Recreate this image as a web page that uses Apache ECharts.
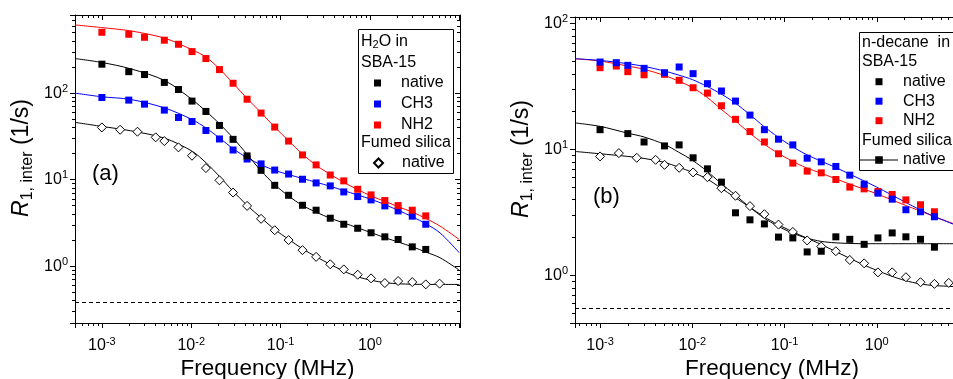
<!DOCTYPE html>
<html>
<head>
<meta charset="utf-8">
<script src="https://cdn.jsdelivr.net/npm/echarts@6/dist/echarts.min.js"></script>
<style>
  html, body { margin: 0; padding: 0; background: #fff; }
  #chart { width: 953px; height: 379px; }
</style>
</head>
<body>
<div id="chart"></div>
<script>
// ---- values (frequency in MHz, R1 in 1/s) ----
// (a) H2O in SBA-15 / fumed silica
const freqA = [0.001, 0.002, 0.003, 0.005, 0.0072, 0.0102, 0.0146, 0.0207, 0.0294, 0.0422, 0.0605, 0.086, 0.123, 0.176, 0.25, 0.36, 0.51, 0.73, 1.03, 1.47, 2.07, 2.98, 4.22];
const aNative = [216, 177, 164, 133, 110, 80.9, 61.4, 42.3, 29.2, 18.8, 12.8, 8.59, 6.59, 5.05, 4.43, 3.58, 3.05, 2.74, 2.43, 2.18, 2.03, 1.67, 1.56];
const aCH3 = [89.0, 83.0, 74.6, 63.6, 52.3, 47.0, 37.0, 29.5, 22.0, 17.3, 15.2, 12.9, 11.6, 10.1, 9.16, 8.46, 7.21, 6.37, 5.83, 4.97, 4.35, 3.78, 3.05];
const aNH2 = [505, 479, 442, 409, 367, 302, 251, 187, 130, 85, 58.8, 40.5, 27.9, 19.3, 14.8, 11.3, 9.67, 7.73, 6.66, 5.73, 5.01, 4.43, 3.81];
const freqFS = [0.001, 0.0016, 0.0025, 0.004, 0.005, 0.0072, 0.0102, 0.0146, 0.0207, 0.0294, 0.0422, 0.0605, 0.086, 0.123, 0.176, 0.25, 0.36, 0.51, 0.73, 1.03, 1.47, 2.07, 2.98, 4.22, 6.03];
const aFumed = [40.1, 37.7, 35.8, 30.8, 27.9, 23.6, 18.9, 13.6, 9.82, 7.08, 4.97, 3.52, 2.60, 2.00, 1.53, 1.28, 1.05, 0.916, 0.796, 0.722, 0.637, 0.672, 0.654, 0.615, 0.627];

// fit curves (a)
const fitFreqA = [0.0005, 0.001, 0.0021, 0.0051, 0.0103, 0.0147, 0.0207, 0.0294, 0.0426, 0.061, 0.086, 0.124, 0.177, 0.251, 0.36, 0.51, 0.73, 1.05, 1.5, 2.1, 3.0, 4.25, 6.1, 10];
const aFitNH2 = [614, 572, 524, 430, 316, 260, 191, 130, 86, 58.8, 40.5, 27.9, 19.6, 14.6, 11.5, 9.31, 7.67, 6.42, 5.57, 4.84, 4.2, 3.55, 2.9, 2.03];
const aFitNative = [251, 226, 191, 139, 83.8, 61.4, 44.3, 30.3, 19.4, 12.5, 8.75, 6.42, 5.01, 4.2, 3.58, 3.16, 2.77, 2.42, 2.12, 1.89, 1.67, 1.45, 1.25, 0.90];
const aFitCH3 = [100, 90.7, 84.5, 67.1, 49.3, 39.4, 30.3, 22.8, 17.8, 14.8, 12.8, 11.4, 10.3, 9.31, 8.38, 7.46, 6.65, 5.88, 5.1, 4.39, 3.71, 3.08, 2.42, 1.43];
const aFitFumed = [45.9, 41.2, 36.7, 30.0, 21.2, 15.6, 10.9, 7.33, 5.0, 3.6, 2.65, 2.03, 1.58, 1.28, 1.05, 0.875, 0.753, 0.684, 0.642, 0.625, 0.617, 0.615, 0.614, 0.614];
const aBulk = 0.378; // dashed level

// (b) n-decane in SBA-15 / fumed silica
const freqB = [0.001, 0.0015, 0.002, 0.003, 0.005, 0.0072, 0.0102, 0.0146, 0.0207, 0.0294, 0.0422, 0.0605, 0.086, 0.123, 0.176, 0.25, 0.36, 0.51, 0.73, 1.03, 1.47, 2.07, 2.98, 4.22];
const bCH3 = [49.6, 49.0, 46.7, 44.2, 40.8, 45.3, 40.1, 33.4, 29.2, 24.3, 18.8, 14.4, 12.1, 10.9, 8.55, 8.0, 7.35, 6.27, 5.32, 4.51, 4.04, 3.33, 3.21, 2.93];
const bNH2 = [44.7, 46.1, 41.6, 39.3, 39.6, 35.5, 31.0, 28.1, 22.3, 17.4, 13.9, 11.5, 9.27, 7.81, 6.75, 6.54, 5.79, 5.04, 4.88, 4.65, 4.40, 3.99, 3.65, 3.21];
const bNative = [14.4, 13.4, 11.5, 10.7, 10.9, 8.61, 7.04, 5.52, 3.15, 2.77, 2.57, 2.02, 1.99, 1.54, 1.56, 2.03, 1.94, 1.77, 1.99, 2.18, 2.03, 1.94, 1.68];
const bFumed = [8.83, 9.38, 8.61, 8.30, 7.57, 7.17, 6.59, 6.04, 4.94, 4.30, 3.56, 3.07, 2.54, 2.22, 1.90, 1.70, 1.56, 1.33, 1.25, 1.06, 1.06, 0.97, 0.885, 0.859, 0.874];

// fit curves (b)
const fitFreqB = [0.000535, 0.001, 0.002, 0.003, 0.005, 0.0071, 0.0101, 0.0144, 0.0203, 0.0288, 0.042, 0.0596, 0.0847, 0.121, 0.172, 0.248, 0.352, 0.5, 0.71, 1.0, 1.42, 2.03, 2.96, 4.2, 6.93];
const bFitCH3 = [52.7, 51.1, 48.1, 45.8, 42.1, 39.1, 35.9, 31.8, 27.8, 23.6, 19.0, 15.3, 12.6, 10.6, 9.15, 8.11, 7.26, 6.43, 5.69, 5.04, 4.40, 3.83, 3.32, 2.94, 2.54];
const bFitNH2 = [52.7, 50.5, 46.1, 43.4, 38.8, 35.0, 31.0, 26.1, 21.1, 17.1, 13.5, 11.1, 9.38, 8.11, 7.17, 6.51, 5.90, 5.35, 4.88, 4.46, 4.02, 3.62, 3.25, 2.94, 2.57];
const bFitNative = [16.3, 15.3, 13.5, 12.6, 11.0, 9.55, 8.20, 6.75, 5.42, 4.40, 3.49, 2.87, 2.47, 2.18, 1.99, 1.87, 1.82, 1.80, 1.79, 1.79, 1.79, 1.79, 1.79, 1.79, 1.79];
const bFitFumed = [9.67, 9.27, 8.83, 8.51, 7.91, 7.26, 6.59, 5.86, 4.97, 4.19, 3.49, 2.94, 2.54, 2.24, 1.99, 1.77, 1.56, 1.38, 1.22, 1.10, 0.994, 0.913, 0.858, 0.833, 0.818];
const bBulk = 0.545;

const legendLabel = {
  'a-native': 'native', 'a-CH3': 'CH3', 'a-NH2': 'NH2', 'a-fumed': 'native',
  'b-native': 'native', 'b-CH3': 'CH3', 'b-NH2': 'NH2', 'b-fumed': 'native'
};

const FONT = '"Liberation Sans", Arial, sans-serif';
const RED = '#ff0000', BLUE = '#0000ff', BLACK = '#000000';

const pairs = (xs, ys) => xs.map((x, i) => [x, ys[i]]);

// tick labels as 10^n, only on whole decades
function powLabel(v, maxExp) {
  const e = Math.log10(v);
  const r = Math.round(e);
  if (Math.abs(e - r) > 1e-6 || r > maxExp) return '';
  return '{b|10}{s|' + r + '}';
}
const labelRich = {
  b: { fontSize: 16, fontFamily: FONT, color: '#000', lineHeight: 20 },
  s: { fontSize: 11, fontFamily: FONT, color: '#000', lineHeight: 11, verticalAlign: 'top' }
};

function xAxisOf(grid, min, max, mirror) {
  return {
    type: 'log', gridIndex: grid, min: min, max: max,
    position: mirror ? 'top' : 'bottom',
    axisLine: { show: true, lineStyle: { color: '#000', width: 1 } },
    axisTick: { show: true, inside: mirror, length: 5, lineStyle: { color: '#000' } },
    minorTick: { show: true, splitNumber: 9, length: 3, lineStyle: { color: '#000' } },
    axisLabel: { show: !mirror, margin: 13, formatter: v => powLabel(v, 0), rich: labelRich },
    splitLine: { show: false },
    name: mirror ? '' : 'Frequency (MHz)',
    nameLocation: 'middle', nameGap: 34, nameMoveOverlap: false,
    nameTextStyle: { fontSize: 22.5, fontFamily: FONT, color: '#000' }
  };
}

function yAxisOf(grid, min, max, mirror) {
  return {
    type: 'log', gridIndex: grid, min: min, max: max,
    position: mirror ? 'right' : 'left',
    axisLine: { show: true, lineStyle: { color: '#000', width: 1 } },
    axisTick: { show: true, inside: mirror, length: 5, lineStyle: { color: '#000' } },
    minorTick: { show: true, splitNumber: 9, length: 3, lineStyle: { color: '#000' } },
    axisLabel: { show: !mirror, margin: 7, formatter: v => powLabel(v, 2), rich: labelRich },
    splitLine: { show: false },
    name: mirror ? '' : '{i|R}{sub|1, inter}{n| (1/s)}',
    nameLocation: 'middle', nameGap: 39, nameRotate: 90,
    nameTextStyle: {
      fontFamily: FONT, color: '#000', padding: [0, 0, 0, 22],
      rich: {
        i: { fontSize: 23, fontStyle: 'italic', fontFamily: FONT, color: '#000', lineHeight: 28 },
        sub: { fontSize: 16, fontFamily: FONT, color: '#000', lineHeight: 16, verticalAlign: 'bottom' },
        n: { fontSize: 23, fontFamily: FONT, color: '#000', lineHeight: 28 }
      }
    }
  };
}

function fitLine(name, xs, ys, color, xi, yi) {
  return {
    name: name, type: 'line', xAxisIndex: xi, yAxisIndex: yi,
    data: pairs(xs, ys), smooth: 0.3, showSymbol: false, symbol: 'none',
    lineStyle: { color: color, width: 1 }, z: 2, silent: true
  };
}

function points(name, xs, ys, color, xi, yi, symbol) {
  const hollow = symbol === 'emptyDiamond';
  return {
    name: name, type: 'scatter', xAxisIndex: xi, yAxisIndex: yi,
    data: pairs(xs, ys),
    symbol: hollow ? 'diamond' : 'rect',
    symbolSize: hollow ? 9 : 7,
    itemStyle: hollow
      ? { color: '#fff', borderColor: '#000', borderWidth: 1, opacity: 1 }
      : { color: color, opacity: 1 },
    z: 3
  };
}

function dashed(value, xi, yi) {
  return {
    type: 'line', xAxisIndex: xi, yAxisIndex: yi, data: [], silent: true,
    markLine: {
      silent: true, symbol: 'none', label: { show: false },
      lineStyle: { color: '#000', type: [4, 3], width: 1 },
      data: [{ yAxis: value }]
    }
  };
}

const legendText = { fontSize: 16, fontFamily: FONT, color: '#000', lineHeight: 20 };

function heading(x, y, text) {
  return {
    type: 'text', x: x, y: y, z: 11,
    style: {
      text: text, fontSize: 16, fontFamily: FONT, fill: '#000', verticalAlign: 'middle',
      rich: { sub: { fontSize: 11, fontFamily: FONT, verticalAlign: 'bottom', lineHeight: 11 } }
    }
  };
}

const chart = echarts.init(document.getElementById('chart'), null, { renderer: 'canvas' });

const option = {
  animation: false,
  backgroundColor: '#fff',
  grid: [
    { left: 75, top: 15, width: 385, height: 308, containLabel: false, outerBoundsMode: 'none' },
    { left: 575, top: 17, right: -16, height: 306, containLabel: false, outerBoundsMode: 'none' }
  ],
  xAxis: [
    xAxisOf(0, 0.0005, 10.2, false),
    xAxisOf(0, 0.0005, 10.2, true),
    xAxisOf(1, 0.000535, 10, false),
    xAxisOf(1, 0.000535, 10, true)
  ],
  yAxis: [
    yAxisOf(0, 0.22, 800, false),
    yAxisOf(0, 0.22, 800, true),
    yAxisOf(1, 0.42, 113, false),
    yAxisOf(1, 0.42, 113, true)
  ],
  legend: [
    {
      data: ['a-native', 'a-CH3', 'a-NH2'], orient: 'vertical',
      left: 374, top: 73, itemWidth: 7, itemHeight: 7, itemGap: 1,
      icon: 'rect', selectedMode: false, padding: 0,
      formatter: n => legendLabel[n],
      textStyle: Object.assign({ padding: [0, 0, 0, 15] }, legendText)
    },
    {
      data: ['a-fumed'], orient: 'vertical',
      left: 373, top: 153, itemWidth: 9, itemHeight: 9, selectedMode: false, padding: 0,
      formatter: n => legendLabel[n],
      textStyle: Object.assign({ padding: [0, 0, 0, 14] }, legendText)
    },
    {
      data: ['b-native', 'b-CH3', 'b-NH2'], orient: 'vertical',
      left: 875.5, top: 71.7, itemWidth: 7, itemHeight: 7, itemGap: -0.5,
      icon: 'rect', selectedMode: false, padding: 0,
      formatter: n => legendLabel[n],
      textStyle: Object.assign({ padding: [0, 0, 0, 15.5] }, legendText)
    },
    {
      data: [{ name: 'b-fumed', icon: 'path://M0,4.5H16V5.5H0Z M16,1H24V9H16Z M24,4.5H40V5.5H24Z', itemStyle: { color: '#000', borderWidth: 0 } }],
      orient: 'vertical',
      left: 860, top: 150, itemWidth: 38, itemHeight: 9, selectedMode: false, padding: 0,
      formatter: n => legendLabel[n],
      textStyle: legendText
    }
  ],
  graphic: [
    // legend frame and headings, panel (a)
    { type: 'rect', x: 358.5, y: 29.5, shape: { width: 95, height: 144 },
      style: { fill: 'none', stroke: '#000', lineWidth: 1 }, z: 10 },
    heading(361, 42, 'H{sub|2}O in'),
    heading(361, 63, 'SBA-15'),
    heading(361, 143, 'Fumed silica'),
    { type: 'text', x: 92, y: 174, z: 11,
      style: { text: '(a)', fontSize: 22, fontFamily: FONT, fill: '#000', verticalAlign: 'middle' } },
    // panel (b)
    { type: 'rect', x: 859.5, y: 32.5, shape: { width: 120, height: 138 },
      style: { fill: 'none', stroke: '#000', lineWidth: 1 }, z: 10 },
    heading(862, 43, 'n-decane  in'),
    heading(862, 62, 'SBA-15'),
    heading(862, 141, 'Fumed silica'),
    { type: 'text', x: 593, y: 197, z: 11,
      style: { text: '(b)', fontSize: 22, fontFamily: FONT, fill: '#000', verticalAlign: 'middle' } }
  ],
  series: [
    // (a)
    dashed(aBulk, 0, 0),
    fitLine('a-fit-fumed', fitFreqA, aFitFumed, BLACK, 0, 0),
    fitLine('a-fit-CH3', fitFreqA, aFitCH3, BLUE, 0, 0),
    fitLine('a-fit-native', fitFreqA, aFitNative, BLACK, 0, 0),
    fitLine('a-fit-NH2', fitFreqA, aFitNH2, RED, 0, 0),
    points('a-fumed', freqFS, aFumed, BLACK, 0, 0, 'emptyDiamond'),
    points('a-CH3', freqA, aCH3, BLUE, 0, 0),
    points('a-native', freqA, aNative, BLACK, 0, 0),
    points('a-NH2', freqA, aNH2, RED, 0, 0),
    // (b)
    dashed(bBulk, 2, 2),
    fitLine('b-fit-fumed', fitFreqB, bFitFumed, BLACK, 2, 2),
    fitLine('b-fit-native', fitFreqB, bFitNative, BLACK, 2, 2),
    fitLine('b-fit-NH2', fitFreqB, bFitNH2, RED, 2, 2),
    fitLine('b-fit-CH3', fitFreqB, bFitCH3, BLUE, 2, 2),
    points('b-fumed', freqFS, bFumed, BLACK, 2, 2, 'emptyDiamond'),
    points('b-native', freqA, bNative, BLACK, 2, 2),
    points('b-NH2', freqB, bNH2, RED, 2, 2),
    points('b-CH3', freqB, bCH3, BLUE, 2, 2)
  ]
};

chart.setOption(option);
</script>
</body>
</html>
